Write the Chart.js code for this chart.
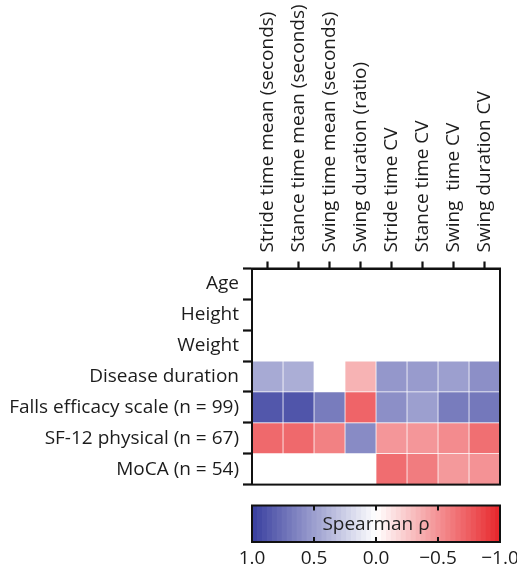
<!DOCTYPE html>
<html>
<head>
<meta charset="utf-8">
<script src="https://cdn.jsdelivr.net/npm/chart.js@4.4.1/dist/chart.umd.min.js"></script>
<style>
  html, body { margin: 0; padding: 0; background: #ffffff; }
  #wrap { position: relative; width: 517px; height: 567px; }
  #main { position: absolute; left: 0; top: 0; }
  #bar { position: absolute; left: 0; top: 500px; }
</style>
</head>
<body>
<div id="wrap">
  <canvas id="main" width="517" height="500"></canvas>
  <canvas id="bar" width="517" height="67"></canvas>
</div>
<script>
// ---- data ----
const gaitMeasures = [
  "Stride time mean (seconds)",
  "Stance time mean (seconds)",
  "Swing time mean (seconds)",
  "Swing duration (ratio)",
  "Stride time CV",
  "Stance time CV",
  "Swing  time CV",
  "Swing duration CV"
];
const clinicalVars = [
  "Age",
  "Height",
  "Weight",
  "Disease duration",
  "Falls efficacy scale (n = 99)",
  "SF-12 physical (n = 67)",
  "MoCA (n = 54)"
];
const ageRho       = [null, null, null, null, null, null, null, null];
const heightRho    = [null, null, null, null, null, null, null, null];
const weightRho    = [null, null, null, null, null, null, null, null];
const durationRho  = [0.44, 0.42, null, -0.35, 0.54, 0.52, 0.50, 0.58];
const fallsRho     = [0.87, 0.88, 0.68, -0.71, 0.58, 0.50, 0.68, 0.70];
const sf12Rho      = [-0.69, -0.69, -0.58, 0.60, -0.48, -0.48, -0.53, -0.66];
const mocaRho      = [null, null, null, null, -0.67, -0.60, -0.47, -0.50];
const colorbarTicks = [1.0, 0.5, 0.0, -0.5, -1.0];

const rhoRows = [ageRho, heightRho, weightRho, durationRho, fallsRho, sf12Rho, mocaRho];

// ---- colour map ----
const BLUE = [56, 62, 158];
const RED = [232, 37, 42];
function rhoColor(v) {
  const end = v >= 0 ? BLUE : RED;
  const t = Math.min(1, Math.abs(v));
  const c = end.map(e => Math.round(255 + (e - 255) * t));
  return `rgb(${c[0]},${c[1]},${c[2]})`;
}

const FONT = "'Open Sans', 'Noto Sans', sans-serif";
const TXT = "#1c1c1c";

// datasets: one per gait measure column, floating bars along x
const datasets = gaitMeasures.map((name, c) => ({
  label: name,
  data: rhoRows.map(row => row[c] === null ? null : [c, c + 1]),
  backgroundColor: rhoRows.map(row => row[c] === null ? 'rgba(0,0,0,0)' : rhoColor(row[c])),
  borderColor: 'rgba(255,255,255,0.75)',
  borderWidth: 0.7,
  borderSkipped: false,
  barPercentage: 1,
  categoryPercentage: 1,
  grouped: false
}));

const framePlugin = {
  id: 'frame',
  afterDraw(chart) {
    const a = chart.chartArea, ctx = chart.ctx;
    ctx.save();
    ctx.strokeStyle = '#111';
    ctx.lineWidth = 2;
    ctx.strokeRect(a.left, a.top, a.right - a.left, a.bottom - a.top);
    ctx.restore();
  }
};

new Chart(document.getElementById('main'), {
  type: 'bar',
  data: { labels: clinicalVars, datasets },
  options: {
    responsive: false,
    animation: false,
    indexAxis: 'y',
    layout: { padding: { left: 0, right: 17, top: 0, bottom: 13 } },
    plugins: { legend: { display: false }, tooltip: { enabled: false } },
    scales: {
      y: {
        type: 'category',
        position: 'left',
        offset: true,
        afterFit(s) { s.width = 252; },
        grid: { drawOnChartArea: false, drawTicks: true, tickLength: 9, tickWidth: 2.2, tickColor: '#111' },
        border: { display: true, color: '#111', width: 2 },
        ticks: { color: TXT, font: { family: FONT, size: 19 }, padding: 4 }
      },
      x: {
        type: 'linear',
        position: 'top',
        min: 0,
        max: gaitMeasures.length,
        afterFit(s) { s.height = 268.5; },
        afterBuildTicks(s) { s.ticks = gaitMeasures.map((_, i) => ({ value: i + 0.5 })); },
        grid: { drawOnChartArea: false, drawTicks: true, tickLength: 7, tickWidth: 2.2, tickColor: '#111' },
        border: { display: true, color: '#111', width: 2 },
        ticks: {
          color: TXT,
          font: { family: FONT, size: 19 },
          autoSkip: false,
          minRotation: 90,
          maxRotation: 90,
          padding: 9,
          labelOffset: 23,
          callback: (v) => gaitMeasures[Math.round(v - 0.5)]
        }
      }
    }
  },
  plugins: [framePlugin]
});

// ---- colour bar ----
const colorbarPlugin = {
  id: 'colorbar',
  beforeDatasetsDraw(chart) {
    const a = chart.chartArea, ctx = chart.ctx, xs = chart.scales.x;
    const steps = 50;
    ctx.save();
    for (let i = 0; i < steps; i++) {
      const v0 = 1 - (2 * i) / steps, v1 = 1 - (2 * (i + 1)) / steps;
      const vm = (v0 + v1) / 2;
      const x0 = xs.getPixelForValue(v0), x1 = xs.getPixelForValue(v1);
      ctx.fillStyle = rhoColor(vm);
      ctx.fillRect(Math.min(x0, x1), a.top, Math.abs(x1 - x0) + 0.6, a.bottom - a.top);
    }
    // inner ticks
    ctx.strokeStyle = '#111';
    ctx.lineWidth = 2;
    [0.5, 0, -0.5].forEach(v => {
      const x = Math.round(xs.getPixelForValue(v));
      ctx.beginPath();
      ctx.moveTo(x, a.top); ctx.lineTo(x, a.top + 5);
      ctx.moveTo(x, a.bottom); ctx.lineTo(x, a.bottom - 5);
      ctx.stroke();
    });
    ctx.fillStyle = '#222';
    ctx.font = "19px " + FONT;
    ctx.textAlign = 'center';
    ctx.textBaseline = 'middle';
    ctx.fillText('Spearman \u03C1', (a.left + a.right) / 2, (a.top + a.bottom) / 2 + 1);
    ctx.restore();
  }
};

new Chart(document.getElementById('bar'), {
  type: 'scatter',
  data: { datasets: [{ data: [] }] },
  options: {
    responsive: false,
    animation: false,
    layout: { padding: { left: 252, right: 17, top: 5.5, bottom: 0 } },
    plugins: { legend: { display: false }, tooltip: { enabled: false } },
    scales: {
      x: {
        type: 'linear',
        reverse: true,
        min: -1,
        max: 1,
        afterFit(s) { s.height = 25; s.paddingLeft = 0; s.paddingRight = 0; },
        afterBuildTicks(s) { s.ticks = colorbarTicks.map(v => ({ value: v })); },
        grid: { display: false, drawTicks: false },
        border: { display: false },
        ticks: {
          color: TXT,
          font: { family: FONT, size: 19 },
          padding: 5,
          maxRotation: 0,
          autoSkip: false,
          callback: (v) => (v < 0 ? '\u2212' : '') + Math.abs(v).toFixed(1)
        }
      },
      y: { display: false, min: 0, max: 1 }
    }
  },
  plugins: [colorbarPlugin, framePlugin]
});
</script>
</body>
</html>
